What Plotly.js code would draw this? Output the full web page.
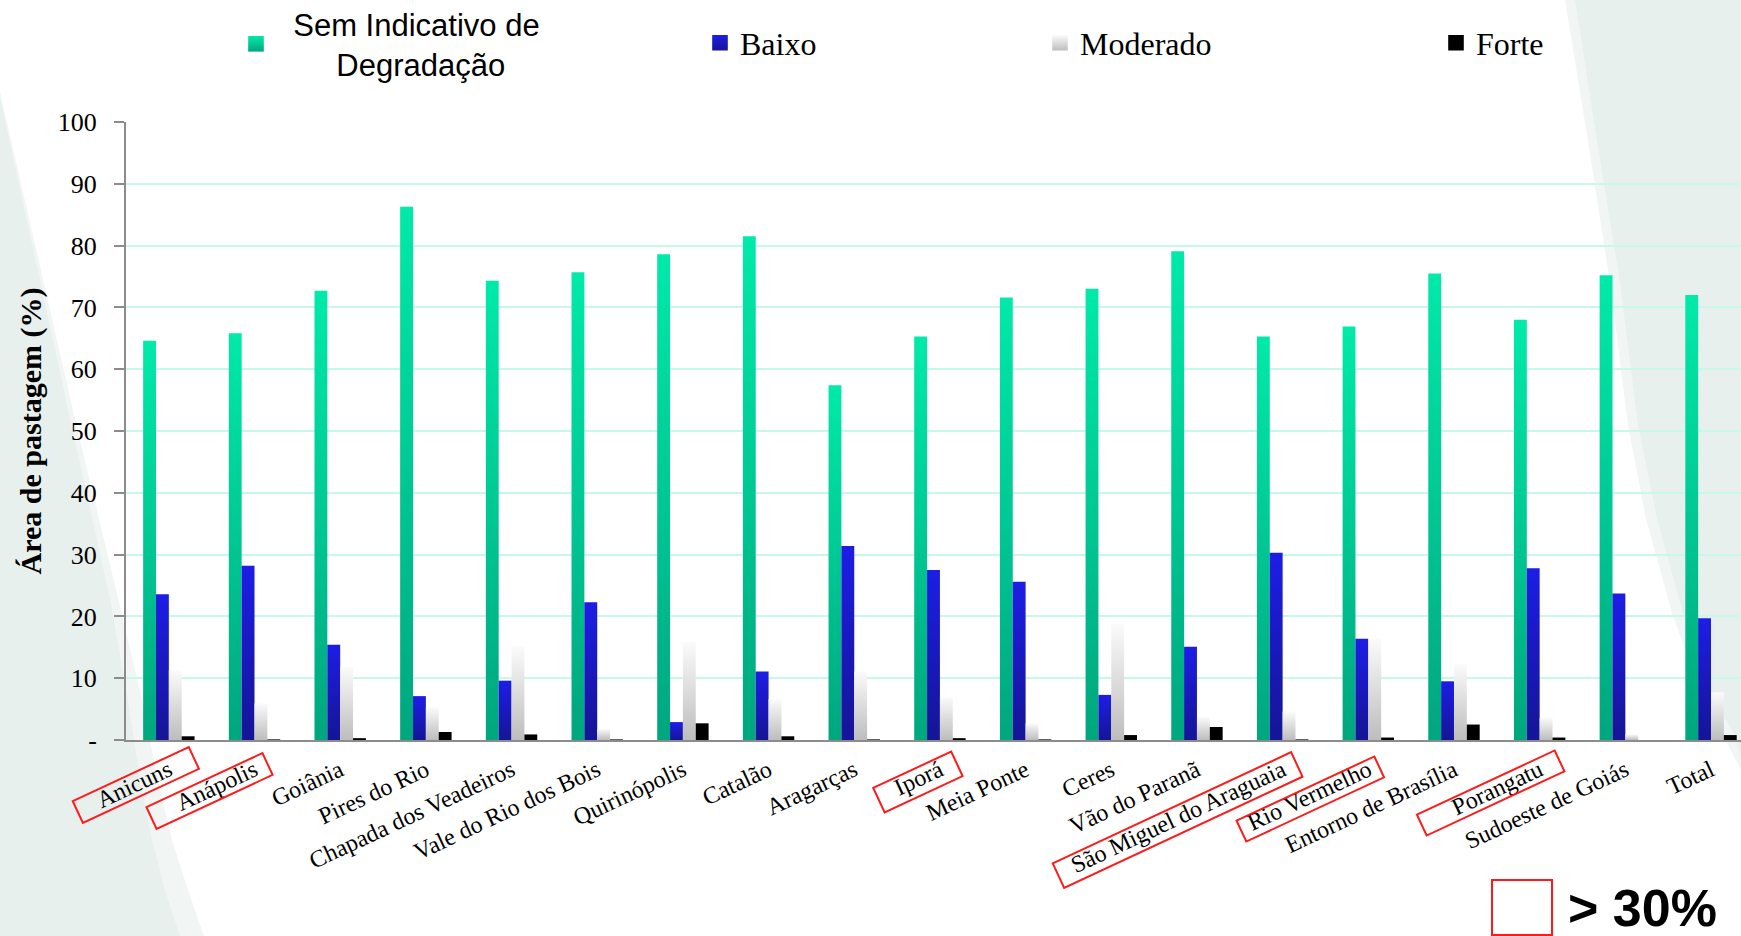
<!DOCTYPE html>
<html>
<head>
<meta charset="utf-8">
<script src="https://cdn.plot.ly/plotly-3.0.1.min.js"></script>
<style>
  html, body { margin: 0; padding: 0; background: #ffffff; }
  #grafico { width: 1741px; height: 936px; }
</style>
</head>
<body>
<div id="grafico"></div>
<script>
// Regiões de planejamento e classes de degradação das pastagens (% da área de pastagem)
const regioes = ['Anicuns', 'Anápolis', 'Goiânia', 'Pires do Rio', 'Chapada dos Veadeiros',
  'Vale do Rio dos Bois', 'Quirinópolis', 'Catalão', 'Aragarças', 'Iporá', 'Meia Ponte',
  'Ceres', 'Vão do Paranã', 'São Miguel do Araguaia', 'Rio Vermelho', 'Entorno de Brasília',
  'Porangatu', 'Sudoeste de Goiás', 'Total'];

const semIndicativo = [64.6, 65.8, 72.7, 86.3, 74.3, 75.7, 78.6, 81.5, 57.4, 65.3, 71.6,
  73.0, 79.1, 65.3, 66.9, 75.5, 68.0, 75.2, 72.0];
const baixo = [23.6, 28.2, 15.4, 7.1, 9.6, 22.3, 2.9, 11.1, 31.4, 27.5, 25.6,
  7.3, 15.1, 30.3, 16.4, 9.5, 27.8, 23.7, 19.7];
const moderado = [11.3, 5.9, 11.8, 5.3, 15.2, 1.8, 15.9, 6.6, 11.1, 7.0, 2.7,
  18.9, 3.7, 4.6, 16.4, 12.3, 3.6, 0.9, 7.7];
const forte = [0.6, 0.1, 0.3, 1.3, 0.9, 0.1, 2.7, 0.6, 0.1, 0.3, 0.1,
  0.8, 2.1, 0.1, 0.4, 2.5, 0.4, 0.0, 0.8];

const nomesSeries = ['&nbsp;&nbsp;Sem Indicativo de<br>&nbsp;&nbsp;&nbsp;&nbsp;&nbsp;&nbsp;&nbsp;Degradação', 'Baixo', 'Moderado', 'Forte'];
const valoresY = [0, 10, 20, 30, 40, 50, 60, 70, 80, 90, 100];
const rotulosY = ['-', '10', '20', '30', '40', '50', '60', '70', '80', '90', '100'];

// Regiões com mais de 30% da pastagem degradada (contornadas em vermelho)
const regioesAcima30 = ['Anicuns', 'Anápolis', 'Iporá', 'São Miguel do Araguaia', 'Rio Vermelho', 'Porangatu'];

// ---- geometria da página ----
const W = 1741, H = 936;
const M = { l: 126, r: 0, t: 122, b: 196, autoexpand: false };
const PW = W - M.l - M.r, PH = H - M.t - M.b;
const XR = [-0.5, 18.35];
const px2x = px => (px - M.l) / PW;
const py2y = py => (H - M.b - py) / PH;
const catPx = i => M.l + (i - XR[0]) / (XR[1] - XR[0]) * PW;

// caixa de destaque de cada rótulo: deslocamento do centro (px) a partir da marca do eixo, comprimento e espessura
const caixas = {
  'Anicuns': [-33, 45, 128, 24],
  'Anápolis': [-45, 51, 128, 24],
  'Iporá': [-22, 42, 86, 27],
  'São Miguel do Araguaia': [-105, 80, 263, 27],
  'Rio Vermelho': [-58, 59, 152, 23],
  'Porangatu': [-49, 53, 152, 23]
};
const ANG = 25 * Math.PI / 180;

function caixaRotacionada(nome) {
  const i = regioes.indexOf(nome);
  const [dx, dy, comp, esp] = caixas[nome];
  const cx = catPx(i) + dx, cy = H - M.b + dy;
  const ux = Math.cos(ANG), uy = -Math.sin(ANG);
  const vx = Math.sin(ANG), vy = Math.cos(ANG);
  const pts = [[-1, -1], [1, -1], [1, 1], [-1, 1]].map(([a, b]) => [
    cx + a * comp / 2 * ux + b * esp / 2 * vx,
    cy + a * comp / 2 * uy + b * esp / 2 * vy
  ]);
  const path = pts.map((p, k) => (k ? 'L' : 'M') + px2x(p[0]).toFixed(5) + ',' + py2y(p[1]).toFixed(5)).join(' ') + ' Z';
  return { type: 'path', xref: 'paper', yref: 'paper', path: path,
    line: { color: '#ff1a1a', width: 2 }, fillcolor: 'rgba(0,0,0,0)', layer: 'above' };
}

function poligono(pontos, cor) {
  const path = pontos.map((p, k) => (k ? 'L' : 'M') + px2x(p[0]).toFixed(5) + ',' + py2y(p[1]).toFixed(5)).join(' ') + ' Z';
  return { type: 'path', xref: 'paper', yref: 'paper', path: path, fillcolor: cor,
    line: { width: 0 }, layer: 'below' };
}

// faixas claras de fundo nas laterais
const fundoEsqClaro = [[0, 92], [40, 266], [78, 432], [118, 598], [142, 700], [158, 780], [172, 840], [188, 890], [204, 936], [0, 936]];
const fundoEsq = [[0, 98], [37, 266], [73, 432], [110, 598], [128, 700], [140, 780], [152, 840], [165, 890], [180, 936], [0, 936]];
const fundoDirClaro = [[1565, 0], [1588, 141], [1610, 283], [1628, 425], [1646, 519], [1672, 613], [1700, 690], [1728, 745], [1741, 770], [1741, 0]];
const fundoDir = [[1575, 0], [1597, 141], [1620, 283], [1638, 425], [1657, 519], [1683, 613], [1710, 690], [1737, 740], [1741, 760], [1741, 0]];

const cores = ['#00c88f', '#1a1ad0', '#e4e4e4', '#000000'];
const series = [semIndicativo, baixo, moderado, forte];
const legendas = ['legend', 'legend2', 'legend3', 'legend4'];

const traces = series.map((vals, k) => ({
  type: 'bar',
  x: regioes,
  y: vals,
  name: nomesSeries[k],
  legend: legendas[k],
  marker: { color: cores[k], line: { width: 0 } },
  hoverinfo: 'x+y'
}));

const serif = 'Liberation Serif, Times New Roman, serif';
const sans = 'Liberation Sans, Arial, sans-serif';
const legendaBase = { orientation: 'v', xanchor: 'left', yanchor: 'middle', y: py2y(43),
  bgcolor: 'rgba(0,0,0,0)', borderwidth: 0, valign: 'middle' };
const centrosSimbolos = [256, 720, 1060, 1456];

const layout = {
  width: W, height: H,
  margin: M,
  paper_bgcolor: '#ffffff',
  plot_bgcolor: 'rgba(0,0,0,0)',
  barmode: 'group',
  bargap: 0.4,
  bargroupgap: 0,
  showlegend: true,
  legend: Object.assign({}, legendaBase, { x: px2x(centrosSimbolos[0] - 20), y: py2y(44),
    font: { family: sans, size: 31, color: '#000' } }),
  legend2: Object.assign({}, legendaBase, { x: px2x(centrosSimbolos[1] - 20),
    font: { family: serif, size: 32, color: '#000' } }),
  legend3: Object.assign({}, legendaBase, { x: px2x(centrosSimbolos[2] - 20),
    font: { family: serif, size: 32, color: '#000' } }),
  legend4: Object.assign({}, legendaBase, { x: px2x(centrosSimbolos[3] - 20),
    font: { family: serif, size: 32, color: '#000' } }),
  xaxis: {
    type: 'category',
    range: XR,
    showline: true, linecolor: '#8c8c8c', linewidth: 2,
    ticks: '', showgrid: false, zeroline: false,
    tickangle: -25,
    tickfont: { family: serif, size: 24, color: '#000' },
    ticklabelstandoff: 5,
    fixedrange: true
  },
  yaxis: {
    range: [0, 100],
    tickvals: valoresY, ticktext: rotulosY,
    ticks: 'outside', ticklen: 10, tickwidth: 2, tickcolor: '#8c8c8c',
    showline: true, linecolor: '#8c8c8c', linewidth: 2,
    showgrid: true, gridcolor: '#c9f7ec', gridwidth: 2,
    zeroline: false,
    tickfont: { family: serif, size: 26, color: '#000' },
    ticklabelstandoff: 12,
    title: { text: 'Área de pastagem (%)', standoff: 7,
      font: { family: serif, size: 30, color: '#000', weight: 'bold' } },
    fixedrange: true
  },
  shapes: [
    poligono(fundoEsqClaro, '#f1f6f5'),
    poligono(fundoEsq, '#e8f0ee'),
    poligono(fundoDirClaro, '#f1f6f5'),
    poligono(fundoDir, '#e8f0ee'),
    ...regioesAcima30.map(caixaRotacionada),
    { type: 'rect', xref: 'paper', yref: 'paper',
      x0: px2x(1492), x1: px2x(1552), y0: py2y(935), y1: py2y(880),
      line: { color: '#ff1a1a', width: 2 }, fillcolor: 'rgba(0,0,0,0)' }
  ],
  annotations: [
    { xref: 'paper', yref: 'paper', x: px2x(1566), y: py2y(908), xanchor: 'left', yanchor: 'middle',
      text: '&gt; 30%', showarrow: false,
      font: { family: sans, size: 52, color: '#000', weight: 'bold' } }
  ]
};

// gradientes verticais das barras
const gradientes = [
  ['gradSem', '#00eaa9', '#00a67e'],
  ['gradBaixo', '#1d1de6', '#151596'],
  ['gradModerado', '#fbfbfb', '#bdbdbd'],
  null
];

function aplicarGradientes(gd) {
  const svg = gd.querySelector('svg.main-svg');
  const ns = 'http://www.w3.org/2000/svg';
  let defs = svg.querySelector('defs');
  if (!defs) { defs = document.createElementNS(ns, 'defs'); svg.insertBefore(defs, svg.firstChild); }
  gradientes.forEach(g => {
    if (!g) return;
    const lg = document.createElementNS(ns, 'linearGradient');
    lg.setAttribute('id', g[0]);
    lg.setAttribute('x1', '0'); lg.setAttribute('y1', '0');
    lg.setAttribute('x2', '0'); lg.setAttribute('y2', '1');
    [[0, g[1]], [1, g[2]]].forEach(([o, c]) => {
      const s = document.createElementNS(ns, 'stop');
      s.setAttribute('offset', o); s.setAttribute('stop-color', c);
      lg.appendChild(s);
    });
    defs.appendChild(lg);
  });
  const grupos = gd.querySelectorAll('.barlayer .trace.bars');
  grupos.forEach((grp, k) => {
    if (!gradientes[k]) return;
    grp.querySelectorAll('.point path').forEach(p => { p.style.fill = 'url(#' + gradientes[k][0] + ')'; });
  });
  // símbolos da legenda um pouco maiores, com o mesmo preenchimento das barras
  legendas.forEach((id, k) => {
    gd.querySelectorAll('g.' + id + ' .legendpoints path').forEach(p => {
      const t = p.getAttribute('transform') || '';
      p.setAttribute('transform', t + ' scale(1.3)');
      if (gradientes[k]) p.style.fill = 'url(#' + gradientes[k][0] + ')';
    });
  });
}

const gd = document.getElementById('grafico');
Plotly.newPlot(gd, traces, layout, { displayModeBar: false, staticPlot: true })
  .then(() => aplicarGradientes(gd));
</script>
</body>
</html>
